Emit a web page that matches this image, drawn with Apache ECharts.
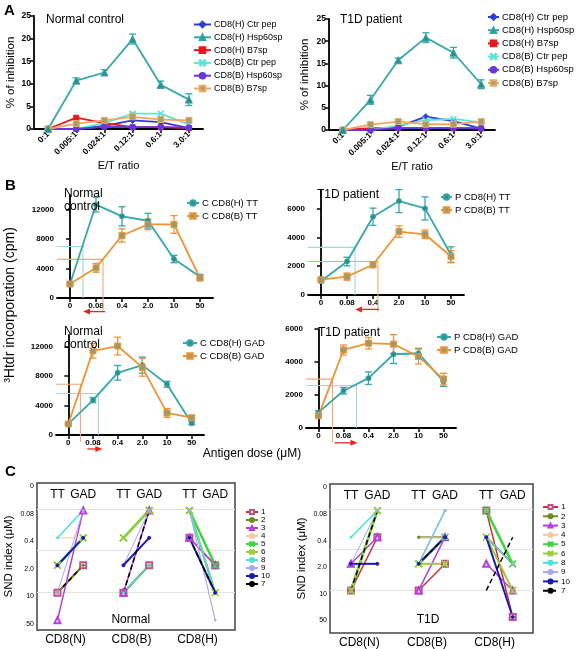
<!DOCTYPE html>
<html><head><meta charset="utf-8">
<script src="https://cdn.jsdelivr.net/npm/echarts@6/dist/echarts.min.js"></script>
<style>html,body{margin:0;padding:0;background:#fff}#c{width:578px;height:649px}</style>
</head><body><div id="c"></div>
<script>
// ================= DATA =================
// Panel A
const etRatios = ['0:1','0.005:1','0.024:1','0.12:1','0.6:1','3.0:1'];
const aSeriesNames = ['CD8(H) Ctr pep','CD8(H) Hsp60sp','CD8(H) B7sp','CD8(B) Ctr pep','CD8(B) Hsp60sp','CD8(B) B7sp'];
const aNorm_HCtr  = [0, 0, 0.7, 1.9, 1.5, 0.2];
const aNorm_HHsp  = [0, 10.7, 12.5, 19.9, 9.8, 6.5];
const aNorm_HHspErr = [0.2, 0.6, 0.6, 1.1, 0.8, 1.3];
const aNorm_HB7   = [0, 2.5, 1.3, 0.4, 0.4, 0.2];
const aNorm_BCtr  = [0, 0, 1.3, 3.4, 3.4, 1.0];
const aNorm_BHsp  = [0, 0, 0.5, 0.4, 0.4, 0.3];
const aNorm_BB7   = [0, 1.2, 1.9, 2.7, 2.1, 1.9];
const aNorm_BB7Err = [0, 0.2, 0.3, 0.9, 0.4, 0.3];
const aT1D_HCtr   = [0, 0, 0.7, 3.0, 2.0, 0.3];
const aT1D_HHsp   = [0, 6.8, 15.7, 20.8, 17.4, 10.3];
const aT1D_HHspErr = [0.2, 1.0, 0.5, 1.1, 1.2, 1.0];
const aT1D_HB7    = [0, 0.4, 0.4, 0.4, 0.4, 0.4];
const aT1D_BCtr   = [0, 0, 1.0, 2.2, 2.5, 1.7];
const aT1D_BHsp   = [0, 0, 0.4, 0.4, 0.4, 0.3];
const aT1D_BB7    = [0, 1.2, 1.9, 1.3, 1.3, 1.9];

// Panel B
const bDoses = ['0','0.08','0.4','2.0','10','50'];
const bNormTT_H = [1900, 12700, 11100, 10500, 5300, 2900];
const bNormTT_HErr = [150, 1000, 1300, 1000, 500, 300];
const bNormTT_B = [1900, 4100, 8500, 10000, 10000, 2700];
const bNormTT_BErr = [150, 600, 900, 700, 1200, 300];
const bT1DTT_H = [960, 2330, 5440, 6530, 6020, 2800];
const bT1DTT_HErr = [100, 300, 600, 800, 800, 550];
const bT1DTT_B = [1070, 1280, 2100, 4410, 4220, 2680];
const bT1DTT_BErr = [100, 250, 200, 400, 300, 400];
const bNormGAD_H = [1500, 4750, 8460, 9500, 6900, 1600];
const bNormGAD_HErr = [100, 350, 1000, 1100, 400, 200];
const bNormGAD_B = [1500, 11450, 12100, 9200, 3000, 2350];
const bNormGAD_BErr = [100, 1000, 1200, 1200, 600, 300];
const bT1DGAD_H = [950, 2260, 3020, 4470, 4530, 2820];
const bT1DGAD_HErr = [100, 200, 380, 560, 300, 300];
const bT1DGAD_B = [750, 4730, 5140, 5080, 4330, 2960];
const bT1DGAD_BErr = [100, 300, 350, 580, 450, 350];
// half-max reference lines: [dose position (category units), cpm level, lower end cpm]
const bNormTT_refH = [0.5, 7000, 0];
const bNormTT_refB = [1.27, 5250, -1900];
const bNormTT_arrow = [1.35, 0.5, -1850];
const bT1DTT_refH = [1.31, 3310, 0];
const bT1DTT_refB = [2.19, 2330, -1150];
const bT1DTT_arrow = [2.23, 1.31, -1000];
const bNormGAD_refB = [0.49, 6900, -950];
const bNormGAD_refH = [1.22, 5650, 0];
const bNormGAD_arrow = [0.77, 1.38, -1900];
const bT1DGAD_refB = [0.56, 2960, -850];
const bT1DGAD_refH = [1.52, 2580, 0];
const bT1DGAD_arrow = [0.64, 1.56, -900];

// Panel C
const sndTicks = ['0','0.08','0.4','2.0','10','50'];
const cGroups = ['CD8(N)','CD8(B)','CD8(H)'];
const cDonors = ['1','2','3','4','5','6','8','9','10','7'];
const cNorm_N_TT  = ['10','10','50','0.4','2.0','2.0','0.4','10','2.0','10'];
const cNorm_N_GAD = ['2.0','2.0','0.08','0.4','0.4','0.4','0.08','0.08','0.4','2.0'];
const cNorm_B_TT  = ['10','10','10','10','0.4','0.4','10','2.0','2.0','10'];
const cNorm_B_GAD = ['2.0','2.0','0.08','2.0','0.08','0.08','2.0','0.08','0.4','0.08'];
const cNorm_H_TT  = ['0.4','0.08','0.4','0.08','0.08','0.08','0.08','0.08','0.4','0.4'];
const cNorm_H_GAD = ['2.0','10','2.0','50','2.0','10','10','50','10','10'];
const cT1D_N_TT  = ['10','10','2.0','10','10','10','0.4','2.0','2.0','10'];
const cT1D_N_GAD = ['0.4','0.08','0.4','0.08','0.08','0.08','0.08','0.08','2.0','0.08'];
const cT1D_B_TT  = ['10','0.4','10','0.4','2.0','2.0','2.0','2.0','2.0','2.0'];
const cT1D_B_GAD = ['2.0','0.4','0.4','0.4','0.4','2.0','0.08','0.08','0.4','0.4'];
const cT1D_H_TT  = ['0.08','0.4','2.0','0.4','0.08','0.4','0.4','0.4','0.4','10'];
const cT1D_H_GAD = ['50','2.0','10','10','2.0','10','2.0','2.0','50','0.4'];

// ================= BUILD =================
const FONT = '"Liberation Sans", Arial, sans-serif';
const grids = [], xAxes = [], yAxes = [], series = [], legends = [], titles = [];
const XSYM = 'path://M0,1L1,0L5,4L9,0L10,1L6,5L10,9L9,10L5,6L1,10L0,9L4,5Z';
const TEAL = '#35a7a7', ORANGE = '#ee9436';

function line(c, w) { return {show: true, lineStyle: {color: c || '#000', width: w || 1.8}}; }
function addGrid(g) { grids.push(g); return grids.length - 1; }
function addX(o) { xAxes.push(o); return xAxes.length - 1; }
function addY(o) { yAxes.push(o); return yAxes.length - 1; }

function catX(gi, cats, rotate, name, nameGap, fs) {
  return addX({type: 'category', gridIndex: gi, data: cats, boundaryGap: true,
    axisLine: line(), axisTick: {show: true, alignWithLabel: true, length: 4, lineStyle: {color: '#000', width: 1.5}},
    axisLabel: {interval: 0, rotate: rotate, margin: 4, color: '#000', fontSize: fs || 8, fontWeight: 'bold', fontFamily: FONT},
    splitLine: {show: false},
    name: name || '', nameLocation: 'middle', nameGap: nameGap || 0,
    nameTextStyle: {fontSize: 11, color: '#000', fontFamily: FONT}});
}
function valY(gi, max, ticks, name, nameGap) {
  return addY({type: 'value', gridIndex: gi, min: 0, max: max,
    axisLine: line(), axisTick: {show: true, length: 4, lineStyle: {color: '#000', width: 1.5}, customValues: ticks},
    axisLabel: {margin: 3, color: '#000', fontSize: 8, fontWeight: 'bold', fontFamily: FONT, customValues: ticks,
      formatter: v => String(v)},
    splitLine: {show: false},
    name: name || '', nameLocation: 'middle', nameGap: nameGap || 0,
    nameTextStyle: {fontSize: 11.5, color: '#000', fontFamily: FONT}});
}
function errSeries(xi, yi, vals, errs, color, capW) {
  series.push({type: 'custom', xAxisIndex: xi, yAxisIndex: yi, silent: true, z: 3,
    data: vals.map((v, i) => [i, v, errs[i]]),
    renderItem: (params, api) => {
      const x = api.value(0), y = api.value(1), e = api.value(2);
      if (!e) return null;
      const t = api.coord([x, y + e]), b = api.coord([x, y - e]);
      const h = capW / 2;
      const st = {stroke: color, lineWidth: 1.3};
      return {type: 'group', children: [
        {type: 'line', shape: {x1: t[0], y1: t[1], x2: b[0], y2: b[1]}, style: st},
        {type: 'line', shape: {x1: t[0] - h, y1: t[1], x2: t[0] + h, y2: t[1]}, style: st},
        {type: 'line', shape: {x1: b[0] - h, y1: b[1], x2: b[0] + h, y2: b[1]}, style: st}]};
    }});
}
function lineSeries(name, xi, yi, vals, color, symbol, size, fill, width) {
  series.push({type: 'line', name: name, xAxisIndex: xi, yAxisIndex: yi, data: vals,
    symbol: symbol, symbolSize: size, showSymbol: true, z: 4,
    lineStyle: {color: color, width: width || 1.8},
    itemStyle: {color: fill || color, borderColor: color, borderWidth: 1}});
}

// ---------- Panel A ----------
function panelA(gridDef, title, titlePos, d, lp) {
  const gi = addGrid(gridDef);
  const xi = catX(gi, etRatios, 45, 'E/T ratio', 31, 8.5);
  const yi = valY(gi, 25, [0, 5, 10, 15, 20, 25], '% of inhibition', lp.yGap);
  yAxes[yi].axisLabel.fontSize = 8.5;
  const st = [
    ['#2b3fd6', 'diamond', 6, null],
    [TEAL, 'triangle', 7, '#2f8c8c'],
    ['#e41a1c', 'rect', 5, null],
    ['#5fe3d6', XSYM, 6, null],
    ['#6a35d9', 'circle', 6, null],
    ['#f0a860', 'rect', 6, '#a39f72']
  ];
  const order = [0, 2, 3, 4, 5, 1];
  errSeries(xi, yi, d[5], d.b7Err || d[5].map(() => 0), '#f0a860', 6);
  order.forEach(k => lineSeries(aSeriesNames[k], xi, yi, d[k], st[k][0], st[k][1], st[k][2], st[k][3], 1.8));
  errSeries(xi, yi, d[1], d.hspErr, TEAL, 7);
  titles.push({text: title, left: titlePos[0], top: titlePos[1],
    textStyle: {fontSize: 12, fontWeight: 'normal', color: '#000', fontFamily: FONT}});
  legends.push({data: aSeriesNames, orient: 'vertical', left: lp.left, top: lp.top,
    itemWidth: lp.w, itemHeight: 7, itemGap: lp.gap, selectedMode: false, padding: 0,
    textStyle: {fontSize: lp.fs, color: '#000', fontFamily: FONT, padding: [0, 0, 0, -2]}});
}
const dNorm = [aNorm_HCtr, aNorm_HHsp, aNorm_HB7, aNorm_BCtr, aNorm_BHsp, aNorm_BB7];
dNorm.hspErr = aNorm_HHspErr; dNorm.b7Err = aNorm_BB7Err;
const dT1D = [aT1D_HCtr, aT1D_HHsp, aT1D_HB7, aT1D_BCtr, aT1D_BHsp, aT1D_BB7];
dT1D.hspErr = aT1D_HHspErr;
panelA({left: 34, top: 16, width: 169, height: 113}, 'Normal control', [41, 9], dNorm,
  {left: 193, top: 20, gap: 3.8, yGap: 17, w: 17, fs: 9});
panelA({left: 329, top: 19, width: 166, height: 111}, 'T1D patient', [335, 9], dT1D,
  {left: 487, top: 12, gap: 3.2, yGap: 18, w: 11, fs: 9.5});

// ---------- Panel B ----------
function refSeries(xi, yi, refs, colors) {
  series.push({type: 'custom', xAxisIndex: xi, yAxisIndex: yi, clip: false, silent: true, z: 1,
    data: refs,
    renderItem: (params, api) => {
      const r = refs[params.dataIndex];
      const p = api.coord([r[0], r[1]]), b = api.coord([r[0], r[2]]);
      const left = params.coordSys.x;
      return {type: 'polyline', shape: {points: [[left, p[1]], [p[0], p[1]], [b[0], b[1]]]},
        style: {stroke: colors[params.dataIndex], fill: null, lineWidth: 1.1}};
    }});
}
function arrowSeries(xi, yi, a) {
  series.push({type: 'custom', xAxisIndex: xi, yAxisIndex: yi, clip: false, silent: true, z: 1,
    data: [a],
    renderItem: (params, api) => {
      const p1 = api.coord([a[0], a[2]]), p2 = api.coord([a[1], a[2]]);
      const dir = p2[0] > p1[0] ? 1 : -1;
      const tipX = p2[0], y = p2[1];
      return {type: 'group', children: [
        {type: 'line', shape: {x1: p1[0], y1: y, x2: tipX - dir * 5, y2: y}, style: {stroke: '#e8261e', lineWidth: 1.3}},
        {type: 'polygon', shape: {points: [[tipX, y], [tipX - dir * 7, y - 3], [tipX - dir * 7, y + 3]]}, style: {fill: '#e8261e'}}]};
    }});
}
function panelB(gridDef, yMax, ticks, hName, bName, H, HE, B, BE, refs, refColors, arrow, titleText, titlePos, lp) {
  const gi = addGrid(gridDef);
  const xi = catX(gi, bDoses, 0);
  const yi = valY(gi, yMax, ticks);
  const xv = addX({type: 'value', gridIndex: gi, min: -0.5, max: 5.5, show: false});
  refSeries(xv, yi, refs, refColors);
  arrowSeries(xv, yi, arrow);
  errSeries(xi, yi, H, HE, TEAL, 7);
  errSeries(xi, yi, B, BE, ORANGE, 7);
  lineSeries(hName, xi, yi, H, TEAL, 'circle', 5, '#2f8c8c', 1.8);
  lineSeries(bName, xi, yi, B, ORANGE, 'rect', 6, '#9c9a6c', 1.8);
  titles.push({text: titleText, left: titlePos[0], top: titlePos[1],
    textStyle: {fontSize: 12, fontWeight: 'normal', color: '#000', fontFamily: FONT, lineHeight: 13}});
  legends.push({data: [hName, bName], orient: 'vertical', left: lp[0], top: lp[1],
    itemWidth: lp[2], itemHeight: 7, itemGap: 3, selectedMode: false, padding: 0,
    textStyle: {fontSize: 9.5, color: '#000', fontFamily: FONT, padding: [0, 0, 0, -2]}});
}
const REFC = ['#9fd9d9', '#f3a77a'];
panelB({left: 57, top: 195, width: 156, height: 103}, 14000, [0, 4000, 8000, 12000],
  'C CD8(H) TT', 'C CD8(B) TT', bNormTT_H, bNormTT_HErr, bNormTT_B, bNormTT_BErr,
  [bNormTT_refH, bNormTT_refB], REFC, bNormTT_arrow, 'Normal\ncontrol', [59, 182], [186, 198, 12]);
panelB({left: 308, top: 190, width: 156, height: 105}, 7300, [0, 2000, 4000, 6000],
  'P CD8(H) TT', 'P CD8(B) TT', bT1DTT_H, bT1DTT_HErr, bT1DTT_B, bT1DTT_BErr,
  [bT1DTT_refH, bT1DTT_refB], REFC, bT1DTT_arrow, 'T1D patient', [312, 183], [440, 192, 11]);
panelB({left: 56, top: 335, width: 148, height: 100}, 13600, [0, 4000, 8000, 12000],
  'C CD8(H) GAD', 'C CD8(B) GAD', bNormGAD_H, bNormGAD_HErr, bNormGAD_B, bNormGAD_BErr,
  [bNormGAD_refB, bNormGAD_refH], [REFC[1], REFC[0]], bNormGAD_arrow, 'Normal\ncontrol', [59, 320], [182, 338, 14]);
panelB({left: 306, top: 329, width: 150, height: 99}, 6000, [0, 2000, 4000, 6000],
  'P CD8(H) GAD', 'P CD8(B) GAD', bT1DGAD_H, bT1DGAD_HErr, bT1DGAD_B, bT1DGAD_BErr,
  [bT1DGAD_refB, bT1DGAD_refH], [REFC[1], REFC[0]], bT1DGAD_arrow, 'T1D patient', [313, 321], [436, 332, 14]);

// ---------- Panel C ----------
const cStyle = {
  '1':  {c: '#d23030', w: 1.5, sym: 'emptyRect', s: 6, b: '#c05088'},
  '2':  {c: '#6b8e23', w: 2, sym: 'circle', s: 2.5},
  '3':  {c: '#b23ee0', w: 1.5, sym: 'emptyTriangle', s: 6},
  '4':  {c: '#f2c9a2', w: 1, sym: 'none', s: 0},
  '5':  {c: '#3ed43e', w: 2.5, sym: XSYM, s: 7},
  '6':  {c: '#9ccc3a', w: 2, sym: XSYM, s: 7},
  '8':  {c: '#4ce0d8', w: 1.5, sym: 'circle', s: 2},
  '9':  {c: '#a9a9f0', w: 1, sym: 'circle', s: 2},
  '10': {c: '#1a1ab0', w: 2, sym: 'circle', s: 3},
  '7':  {c: '#000000', w: 1.5, sym: 'none', s: 0, dash: [5, 3]}
};
const TT_OFF = 0.31, GAD_OFF = 0.70;
function lvl(v) { return sndTicks.indexOf(v); }
function panelC(gridDef, yMax, data, tag, tagPos, legendPos, legendGap, legendW) {
  const gi = addGrid(Object.assign({show: true, borderColor: '#444', borderWidth: 1.5}, gridDef));
  addX({type: 'category', gridIndex: gi, data: cGroups, boundaryGap: true,
    axisLine: {show: false}, axisTick: {show: false},
    axisLabel: {margin: 4, color: '#000', fontSize: 12, fontFamily: FONT, padding: [0, 9, 0, 0]}});
  const xv = addX({type: 'value', gridIndex: gi, min: 0, max: 3, show: false});
  const yi = addY({type: 'value', gridIndex: gi, inverse: true, min: 0, max: yMax,
    axisLine: {show: false}, axisTick: {show: false}, splitLine: {show: false},
    axisLabel: {customValues: [0, 1, 2, 3, 4, 5], formatter: v => sndTicks[Math.round(v)],
      verticalAlign: 'top', margin: 3, fontSize: 7, color: '#000', fontFamily: FONT},
    name: 'SND index (μM)', nameLocation: 'middle', nameGap: 22,
    nameTextStyle: {fontSize: 11.5, color: '#000', fontFamily: FONT}});
  // light grid lines
  series.push({type: 'line', xAxisIndex: xv, yAxisIndex: yi, data: [], silent: true,
    markLine: {silent: true, symbol: 'none', label: {show: false},
      lineStyle: {color: '#e2e2e2', width: 1, type: 'solid'},
      data: [{yAxis: 0.95}, {yAxis: 2.45}, {yAxis: 4.0}]}});
  // header texts
  const heads = [];
  cGroups.forEach((g, gi2) => { heads.push([gi2 + TT_OFF, 0.43, 'TT']); heads.push([gi2 + GAD_OFF, 0.43, 'GAD']); });
  heads.push([tagPos[0], tagPos[1], tag]);
  series.push({type: 'custom', xAxisIndex: xv, yAxisIndex: yi, silent: true, z: 2, data: heads,
    renderItem: (params, api) => {
      const h = heads[params.dataIndex];
      const p = api.coord([h[0], h[1]]);
      return {type: 'text', x: p[0], y: p[1], style: {text: h[2], align: 'center', verticalAlign: 'middle',
        fontSize: 12, fontFamily: FONT, fill: '#000'}};
    }});
  cDonors.forEach((d, k) => {
    const s = cStyle[d];
    data.forEach((pair, g) => {
      series.push({type: 'line', name: d, xAxisIndex: xv, yAxisIndex: yi, z: 5,
        data: [[g + TT_OFF, lvl(pair[0][k])], [g + GAD_OFF, lvl(pair[1][k])]],
        symbol: s.sym, symbolSize: s.s, showSymbol: s.sym !== 'none',
        lineStyle: {color: s.c, width: s.w, type: s.dash || 'solid'},
        itemStyle: {color: s.b || s.c, borderColor: s.b || s.c, borderWidth: 1}});
    });
  });
  legends.push({data: cDonors, orient: 'vertical', left: legendPos[0], top: legendPos[1],
    itemWidth: legendW, itemHeight: 5, itemGap: legendGap, selectedMode: false, padding: 0,
    textStyle: {fontSize: 8, color: '#000', fontFamily: FONT, padding: [0, 0, 0, -2]}});
}
panelC({left: 37, top: 483, width: 198, height: 147}, 5.36,
  [[cNorm_N_TT, cNorm_N_GAD], [cNorm_B_TT, cNorm_B_GAD], [cNorm_H_TT, cNorm_H_GAD]],
  'Normal', [1.42, 5.0], [245, 508], 0, 12);
panelC({left: 330, top: 484, width: 203, height: 150}, 5.6,
  [[cT1D_N_TT, cT1D_N_GAD], [cT1D_B_TT, cT1D_B_GAD], [cT1D_H_TT, cT1D_H_GAD]],
  'T1D', [1.45, 5.1], [542, 503], 1.3, 15);

const chart = echarts.init(document.getElementById('c'));
chart.setOption({
  animation: false,
  backgroundColor: '#fff',
  textStyle: {fontFamily: FONT},
  title: titles,
  grid: grids, xAxis: xAxes, yAxis: yAxes, legend: legends, series: series,
  graphic: [
    {type: 'text', left: 4, top: 3, style: {text: 'A', font: 'bold 15px "Liberation Sans", Arial', fill: '#000'}},
    {type: 'text', left: 5, top: 178, style: {text: 'B', font: 'bold 15px "Liberation Sans", Arial', fill: '#000'}},
    {type: 'text', left: 5, top: 464, style: {text: 'C', font: 'bold 15px "Liberation Sans", Arial', fill: '#000'}},
    {type: 'text', x: 10, y: 305, rotation: Math.PI / 2,
      style: {text: '³Htdr incorporation (cpm)', align: 'center', verticalAlign: 'middle', font: '14px "Liberation Sans", Arial', fill: '#000'}},
    {type: 'text', x: 252, y: 454,
      style: {text: 'Antigen dose (μM)', align: 'center', verticalAlign: 'middle', font: '12px "Liberation Sans", Arial', fill: '#000'}}
  ]
});
</script></body></html>
